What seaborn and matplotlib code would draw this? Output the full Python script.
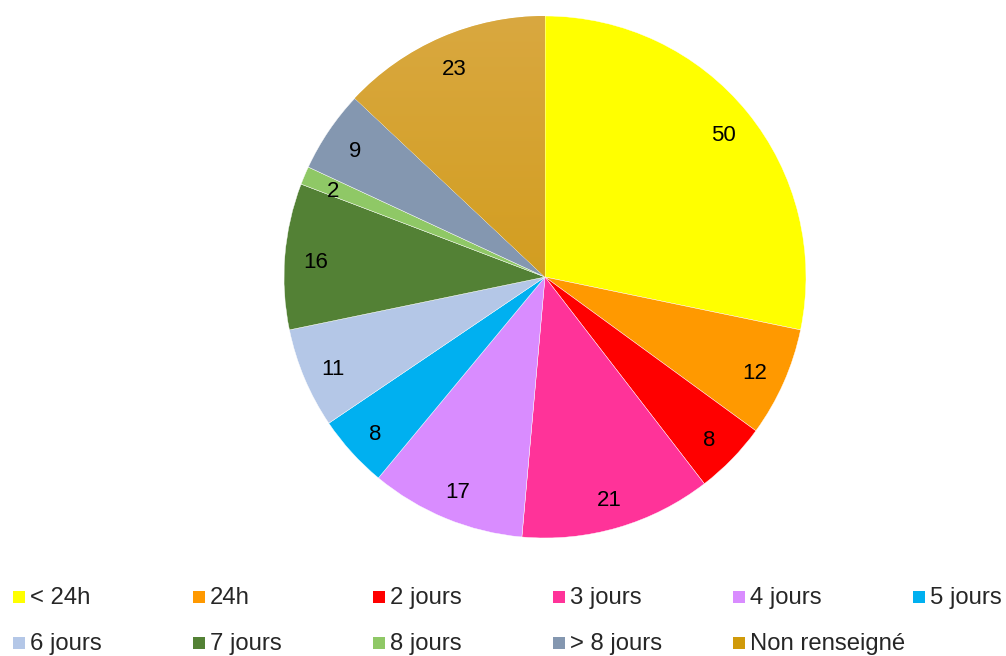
import numpy as np
import seaborn as sns
import matplotlib.pyplot as plt
from matplotlib.patches import Rectangle
from matplotlib.colors import LinearSegmentedColormap

labels = ["< 24h", "24h", "2 jours", "3 jours", "4 jours", "5 jours",
          "6 jours", "7 jours", "8 jours", "> 8 jours", "Non renseigné"]
values = [50, 12, 8, 21, 17, 8, 11, 16, 2, 9, 23]
colors = ["#FFFF00", "#FF9900", "#FF0000", "#FF3399", "#D98CFF", "#00B0F0",
          "#B4C7E7", "#538135", "#8FC866", "#8497B0", "#D09A0A"]

sns.set_theme(style="white")
plt.rcParams['font.family'] = ['Liberation Sans', 'DejaVu Sans']
palette = sns.color_palette(colors)

W, H = 1006, 656
fig = plt.figure(figsize=(W / 100, H / 100), dpi=100)
cx, cy, r = 545, 277, 261
ax = fig.add_axes([(cx - r) / W, (H - cy - r) / H, 2 * r / W, 2 * r / H])

wedges, texts = ax.pie(values, colors=palette, startangle=90, counterclock=False,
                       labels=[str(v) for v in values], labeldistance=0.88,
                       wedgeprops=dict(edgecolor="white", linewidth=0.3),
                       textprops=dict(fontsize=16, color="black", ha="center", va="center"))
ax.set_xlim(-1, 1)
ax.set_ylim(-1, 1)
ax.set_aspect("equal")
ax.axis("off")

# light-to-dark gradient on the last slice
cmap = LinearSegmentedColormap.from_list("gold", ["#CC9300", "#D9A840"])
grad = np.linspace(0, 1, 256).reshape(-1, 1)
im = ax.imshow(grad, cmap=cmap, extent=(-1, 1, -1, 1), origin="lower",
               aspect="auto", zorder=wedges[-1].get_zorder())
im.set_clip_path(wedges[-1])
for t in texts:
    t.set_zorder(5)
    x, y = t.get_position()
    t.set_position((x, y - 0.013))

# legend, two rows of six columns
for i, lab in enumerate(labels):
    col, row = i % 6, i // 6
    x = 13 + 180 * col
    yc = 597 + 46 * row
    fig.patches.append(Rectangle((x / W, (H - yc - 6) / H), 12 / W, 12 / H,
                                 transform=fig.transFigure, facecolor=palette[i],
                                 edgecolor="none"))
    fig.text((x + 17) / W, (H - yc - 1) / H, lab, fontsize=17.2, va="center", ha="left")

fig.savefig("out.png", dpi=100)
